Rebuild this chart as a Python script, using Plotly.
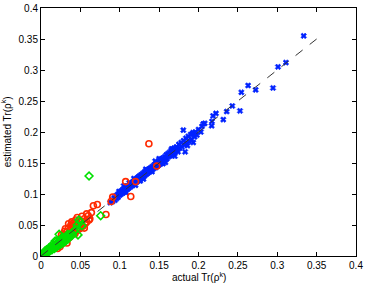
import plotly.graph_objects as go

blue_x = [0.088,0.090,0.091,0.093,0.094,0.095,0.096,0.097,0.098,0.099,0.100,0.101,0.102,0.103,0.104,0.105,0.106,0.107,0.108,0.109,0.110,0.111,0.112,0.113,0.114,0.115,0.116,0.117,0.118,0.119,0.120,0.121,0.122,0.123,0.124,0.125,0.126,0.127,0.128,0.129,0.130,0.131,0.132,0.133,0.134,0.135,0.136,0.137,0.138,0.139,0.140,0.141,0.142,0.143,0.144,0.145,0.146,0.147,0.148,0.149,0.150,0.151,0.152,0.153,0.154,0.155,0.156,0.157,0.158,0.159,0.160,0.161,0.162,0.163,0.164,0.165,0.166,0.167,0.168,0.169,0.170,0.172,0.173,0.175,0.176,0.178,0.179,0.181,0.182,0.183,0.1807,0.184,0.185,0.187,0.188,0.190,0.191,0.193,0.1934,0.195,0.196,0.198,0.200,0.2044,0.206,0.2079,0.2167,0.2171,0.2184,0.2222,0.2315,0.2358,0.2429,0.2527,0.2544,0.263,0.2726,0.2946,0.301,0.311,0.3336,0.105,0.112,0.118,0.126,0.133,0.141,0.150,0.158,0.166,0.174,0.099,0.108,0.120,0.130,0.145,0.155,0.170,0.186,0.192,0.203]
blue_y = [0.086,0.091,0.088,0.094,0.090,0.097,0.093,0.099,0.095,0.101,0.098,0.104,0.100,0.106,0.102,0.108,0.104,0.110,0.106,0.112,0.108,0.113,0.110,0.116,0.112,0.118,0.114,0.120,0.116,0.122,0.118,0.124,0.120,0.127,0.122,0.129,0.124,0.131,0.126,0.133,0.127,0.135,0.130,0.137,0.132,0.139,0.134,0.140,0.136,0.142,0.138,0.144,0.140,0.146,0.142,0.148,0.143,0.150,0.145,0.152,0.147,0.154,0.149,0.156,0.150,0.158,0.153,0.160,0.155,0.163,0.157,0.165,0.160,0.167,0.162,0.170,0.163,0.172,0.166,0.174,0.168,0.176,0.171,0.180,0.174,0.183,0.176,0.186,0.179,0.168,0.203,0.190,0.182,0.193,0.185,0.196,0.188,0.199,0.183,0.192,0.200,0.195,0.204,0.209,0.213,0.214,0.210,0.217,0.226,0.230,0.220,0.233,0.242,0.234,0.264,0.275,0.268,0.271,0.305,0.312,0.355,0.113,0.118,0.125,0.121,0.140,0.136,0.157,0.151,0.173,0.168,0.104,0.102,0.114,0.124,0.153,0.149,0.161,0.178,0.197,0.200]

red_x = [0.137,0.147,0.120,0.1075,0.114,0.091,0.089,0.0825,0.0715,0.0665,0.064,0.060,0.062,0.058,0.055,0.052,0.050,0.048,0.045,0.047,0.044,0.042,0.040,0.038,0.040,0.037,0.035,0.036,0.033,0.034,0.031,0.030,0.028,0.029,0.026,0.025,0.023,0.022,0.024,0.027,0.032,0.036,0.038,0.043,0.046,0.049,0.053,0.056,0.058,0.061,0.041,0.044,0.039,0.030,0.026,0.033,0.021,0.035,0.046,0.052,0.031,0.043,0.055]
red_y = [0.181,0.145,0.120,0.120,0.096,0.095,0.088,0.067,0.083,0.081,0.070,0.065,0.060,0.068,0.060,0.056,0.050,0.055,0.052,0.045,0.047,0.044,0.048,0.050,0.040,0.042,0.045,0.037,0.039,0.032,0.034,0.030,0.032,0.026,0.027,0.022,0.024,0.018,0.015,0.020,0.027,0.030,0.034,0.038,0.041,0.044,0.048,0.052,0.055,0.058,0.053,0.058,0.055,0.040,0.034,0.021,0.012,0.052,0.062,0.064,0.044,0.036,0.045]

green_x = [0.001,0.002,0.003,0.004,0.005,0.006,0.007,0.008,0.009,0.010,0.011,0.012,0.013,0.014,0.015,0.016,0.017,0.018,0.019,0.020,0.021,0.022,0.023,0.024,0.025,0.026,0.027,0.028,0.029,0.030,0.031,0.032,0.033,0.034,0.035,0.036,0.038,0.040,0.042,0.044,0.046,0.048,0.050,0.052,0.047,0.023,0.061,0.0758,0.010,0.015,0.007,0.018,0.005,0.012,0.020,0.027,0.034]
green_y = [0.001,0.003,0.002,0.005,0.003,0.006,0.004,0.009,0.006,0.008,0.011,0.009,0.014,0.010,0.013,0.016,0.012,0.017,0.014,0.020,0.016,0.022,0.018,0.024,0.019,0.023,0.027,0.021,0.025,0.029,0.024,0.028,0.031,0.027,0.033,0.030,0.036,0.034,0.040,0.043,0.050,0.058,0.055,0.049,0.034,0.035,0.129,0.065,0.013,0.019,0.010,0.024,0.008,0.015,0.024,0.030,0.035]

line_x = [0, 0.35]
line_y = [0, 0.35]

tick_vals = [0, 0.05, 0.1, 0.15, 0.2, 0.25, 0.3, 0.35, 0.4]
tick_text = ["0", "0.05", "0.1", "0.15", "0.2", "0.25", "0.3", "0.35", "0.4"]

fig = go.Figure()
fig.add_trace(go.Scatter(x=blue_x, y=blue_y, mode="markers",
                         marker=dict(symbol="x", size=5, color="#0022ff",
                                     line=dict(width=0.6, color="#0022ff"))))
fig.add_trace(go.Scatter(x=red_x, y=red_y, mode="markers",
                         marker=dict(symbol="circle-open", size=6, color="#ff2a00",
                                     line=dict(width=1.6, color="#ff2a00"))))
fig.add_trace(go.Scatter(x=green_x, y=green_y, mode="markers",
                         marker=dict(symbol="diamond-open", size=6, color="#00e000",
                                     line=dict(width=1.6, color="#00e000"))))
fig.add_trace(go.Scatter(x=line_x, y=line_y, mode="lines",
                         line=dict(color="#333333", width=1, dash="dash")))

axis_common = dict(range=[0, 0.4], tickvals=tick_vals, ticktext=tick_text,
                   showgrid=False, zeroline=False, showline=True, linecolor="black",
                   linewidth=1, mirror="ticks", ticks="inside", ticklen=4,
                   tickcolor="black", tickfont=dict(size=10, color="black"),
                   automargin=False)

fig.update_layout(
    width=366, height=285,
    margin=dict(l=41, r=10, t=8, b=29),
    paper_bgcolor="white", plot_bgcolor="white",
    showlegend=False,
    font=dict(family="Liberation Sans, Arial, sans-serif", size=10, color="black"),
    xaxis=dict(**axis_common),
    yaxis=dict(**axis_common),
    annotations=[
        dict(text="actual Tr(ρ<sup>k</sup>)", xref="paper", yref="paper",
             x=0.5, y=-0.052, xanchor="center", yanchor="top", showarrow=False,
             font=dict(size=10)),
        dict(text="estimated Tr(ρ<sup>k</sup>)", xref="paper", yref="paper",
             x=-0.11, y=0.5, xanchor="center", yanchor="middle", showarrow=False,
             textangle=-90, font=dict(size=10)),
    ],
)

fig.write_html("out.html",
               config={"displayModeBar": False},
               post_script="document.body.style.margin='0';document.body.style.padding='0';")
